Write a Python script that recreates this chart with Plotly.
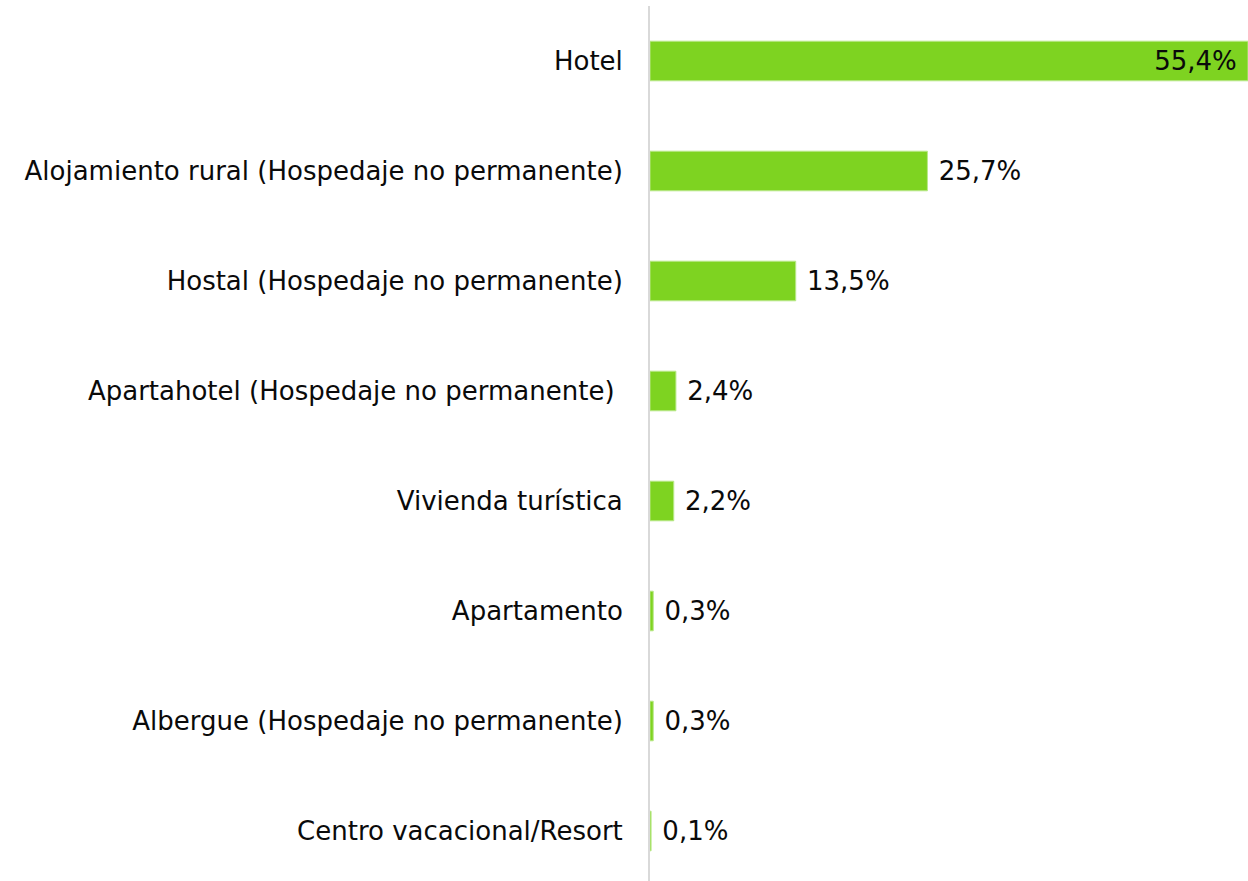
import plotly.graph_objects as go

categories = [
    "Hotel",
    "Alojamiento rural (Hospedaje no permanente)",
    "Hostal (Hospedaje no permanente)",
    "Apartahotel (Hospedaje no permanente) ",
    "Vivienda turística",
    "Apartamento",
    "Albergue (Hospedaje no permanente)",
    "Centro vacacional/Resort",
]
values = [55.4, 25.7, 13.5, 2.4, 2.2, 0.3, 0.3, 0.1]
labels = ["55,4%", "25,7%", "13,5%", "2,4%", "2,2%", "0,3%", "0,3%", "0,1%"]

positions = ["inside"] + ["outside"] * (len(values) - 1)
texts = [labels[0] + " "] + [" " + t for t in labels[1:]]

FONT = "DejaVu Sans"
SIZE = 26
COLOR = "#0A0A0A"

fig = go.Figure(
    go.Bar(
        x=values,
        y=categories,
        orientation="h",
        text=texts,
        textposition=positions,
        insidetextanchor="end",
        textfont=dict(family=FONT, size=SIZE, color=COLOR),
        insidetextfont=dict(family=FONT, size=SIZE, color=COLOR),
        outsidetextfont=dict(family=FONT, size=SIZE, color=COLOR),
        marker=dict(color="#7ED321", line=dict(color="#B9E889", width=1)),
        cliponaxis=False,
        width=0.36,
    )
)

fig.update_layout(
    width=1248,
    height=881,
    margin=dict(l=650, r=0, t=6, b=0),
    paper_bgcolor="white",
    plot_bgcolor="white",
    showlegend=False,
    font=dict(family=FONT, size=SIZE, color=COLOR),
    xaxis=dict(range=[0, 55.4], visible=False, showgrid=False, zeroline=False),
    yaxis=dict(
        type="category",
        range=[7.4545, -0.5],
        showline=True,
        linecolor="#D9D9D9",
        linewidth=2,
        showgrid=False,
        zeroline=False,
        ticks="",
        ticklabelstandoff=20,
        tickfont=dict(family=FONT, size=SIZE, color=COLOR),
    ),
)

fig.write_html(
    "out.html",
    config={"displayModeBar": False},
    post_script="document.body.style.margin='0';document.body.style.overflow='hidden';",
)
